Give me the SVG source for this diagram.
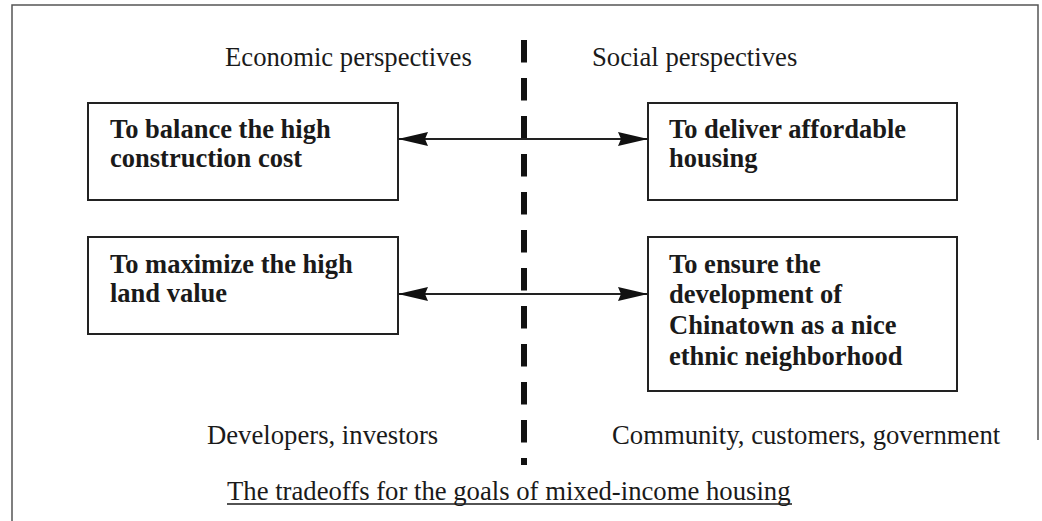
<svg xmlns="http://www.w3.org/2000/svg" width="1042" height="521" viewBox="0 0 1042 521">
<style>
.lbl{font-family:"Liberation Serif","Times New Roman",serif;font-size:26.7px;fill:#1a1a1a}
.bold{font-family:"Liberation Serif","Times New Roman",serif;font-size:26.5px;font-weight:bold;fill:#1a1a1a}
.box{fill:#fff;stroke:#222;stroke-width:2}
.conn{stroke:#222;stroke-width:2;fill:none}
.frame{stroke:#555;stroke-width:1.5;fill:none}
</style>
<defs>
<marker id="ah" viewBox="0 0 30 14" refX="30" refY="7" markerWidth="30" markerHeight="14" markerUnits="userSpaceOnUse" orient="auto-start-reverse">
<path d="M0,0 L30,7 L0,14 L3,7 Z" fill="#111"/>
</marker>
</defs>
<rect width="1042" height="521" fill="#fff"/>
<g id="frame">
<path class="frame" d="M12,521 L12,5 L1038,5 L1038,440"/>
</g>
<g id="divider">
<line x1="524" y1="40" x2="524" y2="465" stroke="#111" stroke-width="6" stroke-dasharray="22.5 15.5"/>
</g>
<text class="lbl" x="225" y="66">Economic perspectives</text>
<text class="lbl" x="592" y="66">Social perspectives</text>
<g id="n1">
<rect class="box" x="88" y="103" width="310" height="97"/>
<text class="bold" x="110" y="138">To balance the high</text>
<text class="bold" x="110" y="167">construction cost</text>
</g>
<g id="n2">
<rect class="box" x="648" y="103" width="309" height="97"/>
<text class="bold" x="669" y="138">To deliver affordable</text>
<text class="bold" x="669" y="167">housing</text>
</g>
<g id="n3">
<rect class="box" x="88" y="237" width="310" height="97"/>
<text class="bold" x="110" y="273">To maximize the high</text>
<text class="bold" x="110" y="302">land value</text>
</g>
<g id="n4">
<rect class="box" x="648" y="237" width="309" height="154"/>
<text class="bold" x="669" y="273">To ensure the</text>
<text class="bold" x="669" y="303">development of</text>
<text class="bold" x="669" y="334">Chinatown as a nice</text>
<text class="bold" x="669" y="365">ethnic neighborhood</text>
</g>
<g id="connectors">
<line class="conn" x1="398" y1="139" x2="648" y2="139" marker-start="url(#ah)" marker-end="url(#ah)"/>
<line class="conn" x1="398" y1="294" x2="648" y2="294" marker-start="url(#ah)" marker-end="url(#ah)"/>
</g>
<text class="lbl" x="207" y="444">Developers, investors</text>
<text class="lbl" x="612" y="444">Community, customers, government</text>
<text class="lbl" x="227" y="500">The tradeoffs for the goals of mixed-income housing</text>
<line x1="227" y1="504" x2="792" y2="504" stroke="#1a1a1a" stroke-width="1.5"/>
</svg>
